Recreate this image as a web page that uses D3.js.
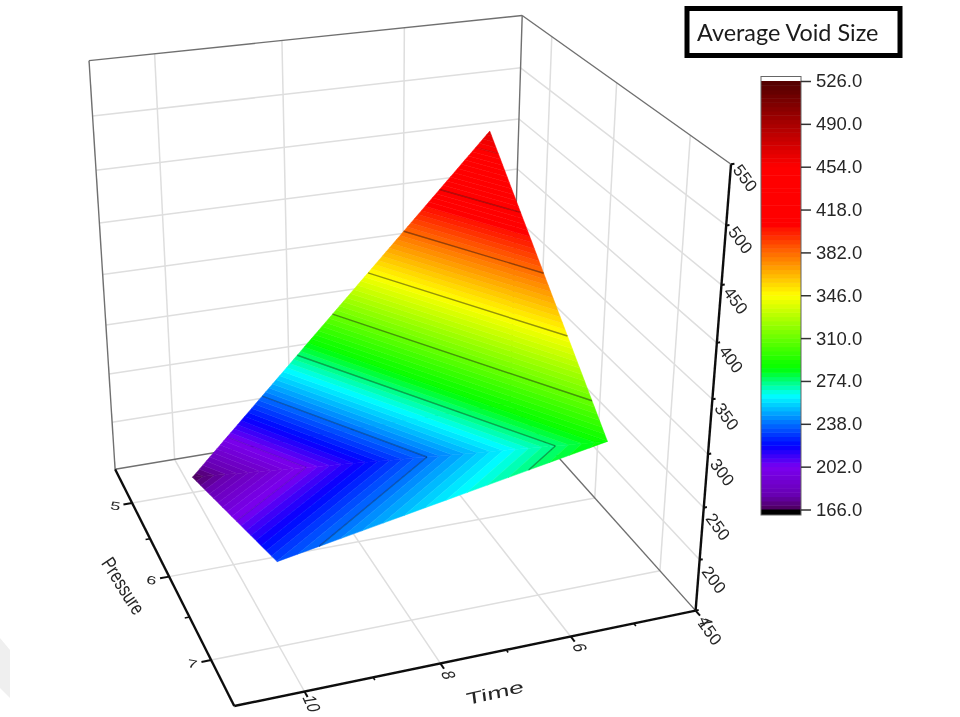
<!DOCTYPE html>
<html lang="en">
  <head>
    <meta charset="UTF-8" />
    <title>Average Void Size</title>
    <script src="https://cdn.jsdelivr.net/npm/d3@7"></script>
    <style>
      html, body { margin: 0; padding: 0; background: #fff; }
      svg { display: block; }
    </style>
  </head>
  <body>
    <script>
      // surface corners: one entry per measured sample
      const sampleTime = [10, 10, 5, 5];
      const samplePressure = [5, 7, 7, 5];
      const sampleVoid = [166, 231, 288, 468];
      const triangles = [[0, 1, 2], [0, 2, 3]];

      const timeTicks = [10, 8, 6, 4];
      const timeGrid = [10, 8, 6];
      const timeMinor = [9, 7, 5];
      const pressureTicks = [5, 6, 7];
      const pressureMinor = [5.5, 6.5];
      const voidTicks = [150, 200, 250, 300, 350, 400, 450, 500, 550];
      const barTicks = [166, 202, 238, 274, 310, 346, 382, 418, 454, 490, 526];
      const contourLevels = [202, 238, 274, 310, 346, 382, 418, 454];

      const paletteValues = [166, 178, 202, 220, 262, 285, 346, 382, 406, 454, 490, 526];
      const paletteColors = ["#4a0058", "#6800b0", "#7a00f0", "#0000ff", "#00ffff", "#00ff00", "#ffff00", "#ff6a00", "#ff0000", "#ff0000", "#a80000", "#500000"];

      const width = 960, height = 717;
      const timeRange = [11, 4], pressureRange = [4.5, 7.5], voidRange = [150, 550];

      const tScale = d3.scaleLinear().domain(timeRange).range([0, 1]);
      const pScale = d3.scaleLinear().domain(pressureRange).range([0, 1]);
      const zScale = d3.scaleLinear().domain(voidRange).range([0, 1]);
      const color = d3.scaleLinear().domain(paletteValues).range(paletteColors).clamp(true);
      // contour lines fade out at both ends of the surface
      const contourAlpha = d3.scaleLinear().domain([202, 238, 310, 382, 418, 454]).range([0.12, 0.3, 0.42, 0.42, 0.3, 0.12]);

      // where box corners and axis ticks land on screen, [time, pressure, void, px, py]
      const calibration = [
        [11, 7.5, 150, 233, 707],
        [4, 7.5, 150, 695, 611],
        [11, 4.5, 150, 114, 468],
        [4, 4.5, 150, 512, 404],
        [4, 7.5, 550, 733, 164],
        [11, 4.5, 550, 90, 61],
        [4, 4.5, 550, 520, 15],
        [10, 7.5, 150, 305, 690],
        [8, 7.5, 150, 441, 662],
        [6, 7.5, 150, 571, 635],
        [5, 7.5, 150, 633, 624],
        [11, 5, 150, 132, 503],
        [11, 6, 150, 170, 577],
        [11, 7, 150, 211, 662],
        [4, 7.5, 300, 707, 455]
      ];

      // fit the camera (11 numbers) to those points, least squares
      function fitCamera(points) {
        var rows = [], rhs = [];
        points.forEach(function (c) {
          var u = tScale(c[0]), v = pScale(c[1]), w = zScale(c[2]);
          var X = c[3] / 1000, Y = c[4] / 1000;
          rows.push([u, v, w, 1, 0, 0, 0, 0, -u * X, -v * X, -w * X]);
          rhs.push(X);
          rows.push([0, 0, 0, 0, u, v, w, 1, -u * Y, -v * Y, -w * Y]);
          rhs.push(Y);
        });
        var n = 11;
        var m = d3.range(n).map(function (i) {
          var row = d3.range(n).map(function (j) {
            return d3.sum(rows, function (r) { return r[i] * r[j]; });
          });
          row.push(d3.sum(rows, function (r, k) { return r[i] * rhs[k]; }));
          return row;
        });
        for (var i = 0; i < n; i++) {
          var best = i;
          for (var k = i + 1; k < n; k++) {
            if (Math.abs(m[k][i]) > Math.abs(m[best][i])) best = k;
          }
          var tmp = m[i]; m[i] = m[best]; m[best] = tmp;
          for (var k2 = 0; k2 < n; k2++) {
            if (k2 === i) continue;
            var f = m[k2][i] / m[i][i];
            for (var j = i; j <= n; j++) m[k2][j] -= f * m[i][j];
          }
        }
        return m.map(function (r, i) { return r[n] / r[i]; });
      }

      const cam = fitCamera(calibration);

      // time, pressure, void -> screen
      function project(t, p, z) {
        var u = tScale(t), v = pScale(p), w = zScale(z);
        var d = cam[8] * u + cam[9] * v + cam[10] * w + 1;
        return [
          1000 * (cam[0] * u + cam[1] * v + cam[2] * w + cam[3]) / d,
          1000 * (cam[4] * u + cam[5] * v + cam[6] * w + cam[7]) / d
        ];
      }

      const line = d3.line();
      const root = d3.select("body").append("svg").attr("width", width).attr("height", height);

      // the source is a soft screenshot, everything gets a slight blur
      const defs = root.append("defs");
      defs.append("filter")
        .attr("id", "soft")
        .attr("filterUnits", "userSpaceOnUse")
        .attr("x", 0).attr("y", 0).attr("width", width).attr("height", height)
        .append("feGaussianBlur")
        .attr("stdDeviation", 0.55);
      const svg = root.append("g").attr("filter", "url(#soft)");

      // faint smudge at the lower left edge of the screenshot
      svg.append("path")
        .attr("d", "M0,638L10,650L10,698L0,688Z")
        .attr("fill", "#efefef");

      function seg(group, a, b, stroke, sw) {
        group.append("path")
          .attr("d", line([project(a[0], a[1], a[2]), project(b[0], b[1], b[2])]))
          .attr("fill", "none")
          .attr("stroke", stroke)
          .attr("stroke-width", sw);
      }

      const T0 = timeRange[0], T1 = timeRange[1];
      const P0 = pressureRange[0], P1 = pressureRange[1];
      const Z0 = voidRange[0], Z1 = voidRange[1];

      // grid on the three walls
      const grid = svg.append("g");
      const gridColor = "#dedede";
      timeGrid.forEach(function (t) {
        seg(grid, [t, P0, Z0], [t, P1, Z0], gridColor, 1.5);
        seg(grid, [t, P0, Z0], [t, P0, Z1], gridColor, 1.5);
      });
      pressureTicks.forEach(function (p) {
        seg(grid, [T0, p, Z0], [T1, p, Z0], gridColor, 1.5);
        seg(grid, [T1, p, Z0], [T1, p, Z1], gridColor, 1.5);
      });
      voidTicks.slice(1, -1).forEach(function (z) {
        seg(grid, [T0, P0, z], [T1, P0, z], gridColor, 1.5);
        seg(grid, [T1, P0, z], [T1, P1, z], gridColor, 1.5);
      });

      // thin grey frame
      const frameColor = "#707070";
      seg(grid, [T0, P0, Z0], [T1, P0, Z0], frameColor, 1.4);
      seg(grid, [T1, P0, Z0], [T1, P1, Z0], frameColor, 1.4);
      seg(grid, [T0, P0, Z0], [T0, P0, Z1], frameColor, 1.4);
      seg(grid, [T0, P0, Z1], [T1, P0, Z1], frameColor, 1.4);
      seg(grid, [T1, P0, Z1], [T1, P1, Z1], frameColor, 1.4);
      seg(grid, [T1, P0, Z0], [T1, P0, Z1], frameColor, 1.4);

      // cut a triangle down to the part between two levels
      function clip(poly, level, keepAbove) {
        var out = [];
        poly.forEach(function (a, i) {
          var b = poly[(i + 1) % poly.length];
          var ina = keepAbove ? a[2] >= level : a[2] <= level;
          var inb = keepAbove ? b[2] >= level : b[2] <= level;
          if (ina) out.push(a);
          if (ina !== inb) {
            var f = (level - a[2]) / (b[2] - a[2]);
            out.push([a[0] + f * (b[0] - a[0]), a[1] + f * (b[1] - a[1]), level]);
          }
        });
        return out;
      }

      const bandStep = 3.6;
      const bandLevels = d3.range(barTicks[0], barTicks[barTicks.length - 1], bandStep);
      const bands = [], contours = [];
      triangles.forEach(function (tri) {
        var verts = tri.map(function (i) { return [sampleTime[i], samplePressure[i], sampleVoid[i]]; });
        bandLevels.forEach(function (lo) {
          var poly = clip(clip(verts, lo, true), lo + bandStep, false);
          if (poly.length > 2) bands.push({ level: lo + bandStep / 2, poly: poly });
        });
        contourLevels.forEach(function (lv) {
          var poly = clip(verts, lv, true).filter(function (d) { return d[2] === lv; });
          if (poly.length === 2) contours.push({ level: lv, poly: poly });
        });
      });

      function toScreen(poly) {
        return poly.map(function (d) { return project(d[0], d[1], d[2]); });
      }

      const surface = svg.append("g");
      surface.selectAll("path.band").data(bands).enter().append("path")
        .attr("class", "band")
        .attr("d", function (d) { return line(toScreen(d.poly)) + "Z"; })
        .attr("fill", function (d) { return color(d.level); })
        .attr("stroke", function (d) { return color(d.level); })
        .attr("stroke-width", 0.5);
      surface.selectAll("path.contour").data(contours).enter().append("path")
        .attr("class", "contour")
        .attr("d", function (d) { return line(toScreen(d.poly)); })
        .attr("fill", "none")
        .attr("stroke", "#000")
        .attr("stroke-opacity", function (d) { return contourAlpha(d.level); })
        .attr("stroke-width", 1.4);

      // black axes with ticks
      const axes = svg.append("g");
      seg(axes, [T0, P0, Z0], [T0, P1, Z0], "#111", 2.4);
      seg(axes, [T0, P1, Z0], [T1, P1, Z0], "#111", 2.4);
      seg(axes, [T1, P1, Z0], [T1, P1, Z1], "#111", 2.4);
      pressureTicks.forEach(function (p) { seg(axes, [T0, p, Z0], [T0 + 0.14, p, Z0], "#111", 2); });
      pressureMinor.forEach(function (p) { seg(axes, [T0, p, Z0], [T0 + 0.07, p, Z0], "#111", 1.6); });
      timeTicks.forEach(function (t) { seg(axes, [t, P1, Z0], [t, P1 + 0.06, Z0], "#111", 2); });
      timeMinor.forEach(function (t) { seg(axes, [t, P1, Z0], [t, P1 + 0.03, Z0], "#111", 1.6); });
      voidTicks.forEach(function (z) { seg(axes, [T1, P1, z], [T1 - 0.05, P1, z], "#111", 2); });

      // labels lie in the walls, so each gets its own slanted text axes
      function label(x, y, text, size, ax, ay, bx, by) {
        svg.append("text")
          .attr("transform", "matrix(" + [ax, ay, bx, by, x, y].join(",") + ")")
          .attr("text-anchor", "middle")
          .attr("dominant-baseline", "central")
          .attr("font-family", "'Liberation Sans', Arial, sans-serif")
          .attr("font-size", size)
          .attr("fill", "#262626")
          .text(text);
      }

      pressureTicks.forEach(function (p) {
        var pos = project(T0 + 0.27, p, Z0);
        label(pos[0], pos[1], p, 13, 1.38, 0.24, -0.15, 0.88);
      });
      timeTicks.forEach(function (t) {
        var pos = project(t, P1 + 0.13, Z0);
        label(pos[0], pos[1], t, 14, 0.45, 1.0, -1.3, 0.22);
      });
      const voidLabelDrop = d3.scaleLinear().domain(voidRange).range([21, 14]);
      voidTicks.forEach(function (z) {
        var pos = project(T1, P1, z);
        label(pos[0] + 14, pos[1] + voidLabelDrop(z), z, 14, 0.72, 1.0, -0.95, 0.75);
      });
      label(495, 693, "Time", 18, 1.46, -0.34, 0.12, 0.93);
      label(123, 586, "Pressure", 16, 0.52, 0.83, -1.05, 0.72);

      // colour bar
      const barX = 761, barW = 40, barTop = 81, barBottom = 509.5;
      const barY = d3.scaleLinear().domain([barTicks[0], barTicks[barTicks.length - 1]]).range([barBottom, barTop]);
      const bar = svg.append("g");
      bar.selectAll("rect.level").data(bandLevels).enter().append("rect")
        .attr("class", "level")
        .attr("x", barX)
        .attr("width", barW)
        .attr("y", function (d) { return barY(d + bandStep); })
        .attr("height", function (d) { return barY(d) - barY(d + bandStep) + 0.5; })
        .attr("fill", function (d) { return color(d + bandStep / 2); });
      bar.append("rect").attr("x", barX).attr("y", barTop - 4.5).attr("width", barW).attr("height", 4.5).attr("fill", "#fff");
      bar.append("rect").attr("x", barX).attr("y", barBottom).attr("width", barW).attr("height", 5.5).attr("fill", "#000");
      bar.append("rect").attr("x", barX).attr("y", barTop - 4.5).attr("width", barW).attr("height", barBottom - barTop + 10)
        .attr("fill", "none").attr("stroke", "#666").attr("stroke-width", 1);

      const barAxis = d3.axisRight(barY).tickValues(barTicks).tickFormat(d3.format(".1f")).tickSize(10).tickPadding(5);
      const barG = svg.append("g").attr("transform", "translate(" + (barX + barW) + ",0)").call(barAxis);
      barG.select(".domain").remove();
      barG.selectAll("line").attr("stroke", "#333").attr("stroke-width", 1.5);
      barG.selectAll("text")
        .attr("font-family", "'Liberation Sans', Arial, sans-serif")
        .attr("font-size", 18.5)
        .attr("fill", "#262626");

      // title box
      svg.append("rect").attr("x", 687).attr("y", 8.5).attr("width", 213).attr("height", 47)
        .attr("fill", "#fff").attr("stroke", "#000").attr("stroke-width", 5);
      svg.append("text").attr("x", 697).attr("y", 41)
        .attr("font-family", "Lato, 'Open Sans', sans-serif")
        .attr("font-size", 23.4)
        .attr("fill", "#1a1a1a")
        .text("Average Void Size");
    </script>
  </body>
</html>
